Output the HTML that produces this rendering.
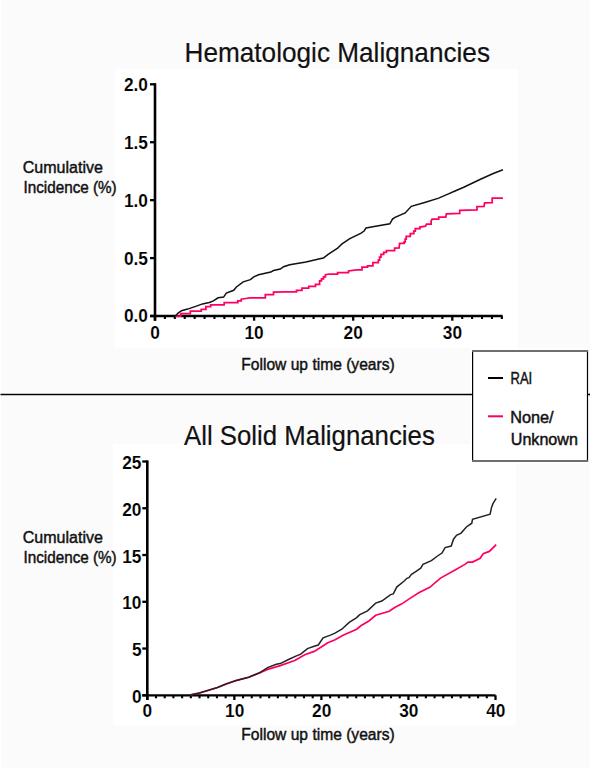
<!DOCTYPE html>
<html><head><meta charset="utf-8"><style>
html,body{margin:0;padding:0;background:#fbfbfb;}
svg{display:block;}
.ttl{font-family:"Liberation Sans",sans-serif;font-size:27.6px;fill:#111;stroke:#111;stroke-width:0.2px;}
.lab{font-family:"Liberation Sans",sans-serif;font-size:16.8px;fill:#111;stroke:#111;stroke-width:0.45px;}
.leg{font-family:"Liberation Sans",sans-serif;font-size:16px;fill:#111;stroke:#111;stroke-width:0.45px;}
.tk{font-family:"Liberation Sans",sans-serif;font-size:18px;font-weight:bold;fill:#000;stroke:#fff;stroke-width:0.12px;}
</style></head><body>
<svg width="590" height="768" viewBox="0 0 590 768">
<rect x="0" y="0" width="590" height="768" fill="#fbfbfb"/>
<rect x="0" y="0" width="1" height="768" fill="#fff"/>
<rect x="115" y="69" width="403" height="279" fill="#fff"/>
<rect x="113" y="444" width="403" height="281" fill="#fff"/>
<rect x="0" y="392.6" width="590" height="3.6" fill="#fff"/>
<line x1="0.5" y1="394.5" x2="590" y2="394.5" stroke="#000" stroke-width="1.45"/>
<text x="184.5" y="62" class="ttl" textLength="305.5" lengthAdjust="spacingAndGlyphs">Hematologic Malignancies</text>
<text x="184" y="445" class="ttl" textLength="250.8" lengthAdjust="spacingAndGlyphs">All Solid Malignancies</text>
<line x1="155" y1="83.2" x2="155" y2="320.7" stroke="#000" stroke-width="2.6"/>
<line x1="150" y1="316.0" x2="502.6" y2="316.0" stroke="#000" stroke-width="2.3"/>
<line x1="150" y1="316.0" x2="155" y2="316.0" stroke="#000" stroke-width="2.3"/>
<line x1="150" y1="258.075" x2="155" y2="258.075" stroke="#000" stroke-width="2.3"/>
<line x1="150" y1="200.15" x2="155" y2="200.15" stroke="#000" stroke-width="2.3"/>
<line x1="150" y1="142.22500000000002" x2="155" y2="142.22500000000002" stroke="#000" stroke-width="2.3"/>
<line x1="150" y1="84.30000000000001" x2="155" y2="84.30000000000001" stroke="#000" stroke-width="2.3"/>
<line x1="155.0" y1="316.0" x2="155.0" y2="320.7" stroke="#000" stroke-width="2.3"/>
<line x1="254.1" y1="316.0" x2="254.1" y2="320.7" stroke="#000" stroke-width="2.3"/>
<line x1="353.2" y1="316.0" x2="353.2" y2="320.7" stroke="#000" stroke-width="2.3"/>
<line x1="452.3" y1="316.0" x2="452.3" y2="320.7" stroke="#000" stroke-width="2.3"/>
<line x1="164.91" y1="316.0" x2="164.91" y2="319.0" stroke="#000" stroke-width="2.1"/>
<line x1="174.82" y1="316.0" x2="174.82" y2="319.0" stroke="#000" stroke-width="2.1"/>
<line x1="184.73" y1="316.0" x2="184.73" y2="319.0" stroke="#000" stroke-width="2.1"/>
<line x1="194.64" y1="316.0" x2="194.64" y2="319.0" stroke="#000" stroke-width="2.1"/>
<line x1="204.55" y1="316.0" x2="204.55" y2="319.0" stroke="#000" stroke-width="2.1"/>
<line x1="214.46" y1="316.0" x2="214.46" y2="319.0" stroke="#000" stroke-width="2.1"/>
<line x1="224.37" y1="316.0" x2="224.37" y2="319.0" stroke="#000" stroke-width="2.1"/>
<line x1="234.28" y1="316.0" x2="234.28" y2="319.0" stroke="#000" stroke-width="2.1"/>
<line x1="244.19" y1="316.0" x2="244.19" y2="319.0" stroke="#000" stroke-width="2.1"/>
<line x1="264.01" y1="316.0" x2="264.01" y2="319.0" stroke="#000" stroke-width="2.1"/>
<line x1="273.92" y1="316.0" x2="273.92" y2="319.0" stroke="#000" stroke-width="2.1"/>
<line x1="283.83000000000004" y1="316.0" x2="283.83000000000004" y2="319.0" stroke="#000" stroke-width="2.1"/>
<line x1="293.74" y1="316.0" x2="293.74" y2="319.0" stroke="#000" stroke-width="2.1"/>
<line x1="303.65" y1="316.0" x2="303.65" y2="319.0" stroke="#000" stroke-width="2.1"/>
<line x1="313.56" y1="316.0" x2="313.56" y2="319.0" stroke="#000" stroke-width="2.1"/>
<line x1="323.47" y1="316.0" x2="323.47" y2="319.0" stroke="#000" stroke-width="2.1"/>
<line x1="333.38" y1="316.0" x2="333.38" y2="319.0" stroke="#000" stroke-width="2.1"/>
<line x1="343.28999999999996" y1="316.0" x2="343.28999999999996" y2="319.0" stroke="#000" stroke-width="2.1"/>
<line x1="363.11" y1="316.0" x2="363.11" y2="319.0" stroke="#000" stroke-width="2.1"/>
<line x1="373.02" y1="316.0" x2="373.02" y2="319.0" stroke="#000" stroke-width="2.1"/>
<line x1="382.93" y1="316.0" x2="382.93" y2="319.0" stroke="#000" stroke-width="2.1"/>
<line x1="392.84000000000003" y1="316.0" x2="392.84000000000003" y2="319.0" stroke="#000" stroke-width="2.1"/>
<line x1="402.75" y1="316.0" x2="402.75" y2="319.0" stroke="#000" stroke-width="2.1"/>
<line x1="412.66" y1="316.0" x2="412.66" y2="319.0" stroke="#000" stroke-width="2.1"/>
<line x1="422.57" y1="316.0" x2="422.57" y2="319.0" stroke="#000" stroke-width="2.1"/>
<line x1="432.48" y1="316.0" x2="432.48" y2="319.0" stroke="#000" stroke-width="2.1"/>
<line x1="442.39" y1="316.0" x2="442.39" y2="319.0" stroke="#000" stroke-width="2.1"/>
<line x1="462.21" y1="316.0" x2="462.21" y2="319.0" stroke="#000" stroke-width="2.1"/>
<line x1="472.12" y1="316.0" x2="472.12" y2="319.0" stroke="#000" stroke-width="2.1"/>
<line x1="482.03000000000003" y1="316.0" x2="482.03000000000003" y2="319.0" stroke="#000" stroke-width="2.1"/>
<line x1="491.94" y1="316.0" x2="491.94" y2="319.0" stroke="#000" stroke-width="2.1"/>
<line x1="501.85" y1="316.0" x2="501.85" y2="319.0" stroke="#000" stroke-width="2.1"/>
<text x="148" y="91" class="tk" text-anchor="end" textLength="24.02" lengthAdjust="spacingAndGlyphs">2.0</text>
<text x="148" y="149" class="tk" text-anchor="end" textLength="24.02" lengthAdjust="spacingAndGlyphs">1.5</text>
<text x="148" y="207" class="tk" text-anchor="end" textLength="24.02" lengthAdjust="spacingAndGlyphs">1.0</text>
<text x="148" y="265" class="tk" text-anchor="end" textLength="24.02" lengthAdjust="spacingAndGlyphs">0.5</text>
<text x="148" y="322" class="tk" text-anchor="end" textLength="24.02" lengthAdjust="spacingAndGlyphs">0.0</text>
<text x="155" y="338.5" class="tk" text-anchor="middle" textLength="9.61" lengthAdjust="spacingAndGlyphs">0</text>
<text x="254.1" y="338.5" class="tk" text-anchor="middle" textLength="19.22" lengthAdjust="spacingAndGlyphs">10</text>
<text x="353.2" y="338.5" class="tk" text-anchor="middle" textLength="19.22" lengthAdjust="spacingAndGlyphs">20</text>
<text x="452.4" y="338.5" class="tk" text-anchor="middle" textLength="19.22" lengthAdjust="spacingAndGlyphs">30</text>
<polyline points="175.4,316.1 180.8,316.1 180.8,313.7 190.3,313.7 190.3,311.0 201.2,311.0 201.2,309.3 205.9,309.3 205.9,306.6 210.7,306.6 210.7,304.8 224.2,304.8 224.2,302.5 237.8,302.5 237.8,300.9 241.2,300.9 241.2,299.2 245.9,298.5 250.0,297.8 265.3,297.8 265.3,294.5 273.5,294.5 273.5,292.2 285.7,291.8 296.5,291.8 296.5,290.4 302.0,290.4 302.0,288.1 308.7,288.1 308.7,286.4 315.5,286.4 315.5,284.3 319.6,284.3 319.6,280.9 321.5,280.9 321.5,278.8 323.5,278.8 323.5,276.8 325.4,276.8 325.4,274.7 329.5,274.0 337.6,274.0 337.6,272.6 348.5,272.6 348.5,270.9 356.6,269.9 362.0,269.9 362.0,267.2 367.5,267.2 367.5,265.8 372.9,265.8 372.9,262.5 378.3,262.5 378.3,260.0 379.6,260.0 379.6,257.1 381.0,257.1 381.0,254.3 383.7,254.3 383.7,252.4 386.4,252.4 386.4,250.5 394.6,250.5 394.6,248.2 399.1,248.0 399.6,243.4 404.2,243.4 404.2,241.9 405.2,241.9 405.2,239.1 406.2,239.1 406.2,236.3 410.3,236.3 410.3,233.7 413.8,233.7 413.8,231.2 415.3,231.2 415.3,228.6 419.9,228.6 419.9,227.1 425.5,226.1 426.5,224.1 431.1,224.1 431.1,221.0 432.1,219.0 438.7,219.0 438.7,217.0 445.8,217.0 446.4,213.9 459.7,213.4 459.7,210.3 477.0,209.8 477.0,206.6 484.1,206.3 484.6,202.9 492.2,202.7 492.2,198.1 502.9,198.1" fill="none" stroke="#ff0062" stroke-width="1.75" stroke-linejoin="miter"/>
<polyline points="175.4,316.1 178.1,313.1 181.5,310.7 187.6,309.1 197.1,305.9 202.5,303.9 209.3,302.5 213.4,300.9 218.1,297.8 223.6,297.1 226.3,293.1 233.7,290.3 236.4,287.0 243.2,281.9 250.4,279.6 253.8,276.9 258.6,274.8 270.8,272.1 273.5,270.5 280.3,269.1 283.6,266.7 289.7,264.7 306.0,262.0 320.9,258.6 323.4,258.1 328.1,254.3 337.6,248.2 341.7,244.2 349.8,238.7 360.7,233.3 364.1,231.0 366.1,227.9 374.2,226.5 389.8,223.8 392.5,219.1 395.0,217.3 405.2,212.9 411.3,206.3 425.5,202.2 438.7,198.1 447.9,194.1 455.0,191.0 463.2,187.5 480.5,179.3 492.7,173.7 502.9,169.7" fill="none" stroke="#111" stroke-width="1.5"/>
<line x1="147.3" y1="460.4" x2="147.3" y2="700.0" stroke="#000" stroke-width="2.6"/>
<line x1="142.3" y1="695.3" x2="495.5" y2="695.3" stroke="#000" stroke-width="2.3"/>
<line x1="142.3" y1="695.3" x2="147.3" y2="695.3" stroke="#000" stroke-width="2.3"/>
<line x1="142.3" y1="648.54" x2="147.3" y2="648.54" stroke="#000" stroke-width="2.3"/>
<line x1="142.3" y1="601.78" x2="147.3" y2="601.78" stroke="#000" stroke-width="2.3"/>
<line x1="142.3" y1="555.02" x2="147.3" y2="555.02" stroke="#000" stroke-width="2.3"/>
<line x1="142.3" y1="508.25999999999993" x2="147.3" y2="508.25999999999993" stroke="#000" stroke-width="2.3"/>
<line x1="142.3" y1="461.49999999999994" x2="147.3" y2="461.49999999999994" stroke="#000" stroke-width="2.3"/>
<line x1="147.3" y1="695.3" x2="147.3" y2="700.0" stroke="#000" stroke-width="2.3"/>
<line x1="234.35000000000002" y1="695.3" x2="234.35000000000002" y2="700.0" stroke="#000" stroke-width="2.3"/>
<line x1="321.4" y1="695.3" x2="321.4" y2="700.0" stroke="#000" stroke-width="2.3"/>
<line x1="408.45" y1="695.3" x2="408.45" y2="700.0" stroke="#000" stroke-width="2.3"/>
<line x1="495.5" y1="695.3" x2="495.5" y2="700.0" stroke="#000" stroke-width="2.3"/>
<line x1="156.00500000000002" y1="695.3" x2="156.00500000000002" y2="698.3" stroke="#000" stroke-width="2.1"/>
<line x1="164.71" y1="695.3" x2="164.71" y2="698.3" stroke="#000" stroke-width="2.1"/>
<line x1="173.41500000000002" y1="695.3" x2="173.41500000000002" y2="698.3" stroke="#000" stroke-width="2.1"/>
<line x1="182.12" y1="695.3" x2="182.12" y2="698.3" stroke="#000" stroke-width="2.1"/>
<line x1="190.82500000000002" y1="695.3" x2="190.82500000000002" y2="698.3" stroke="#000" stroke-width="2.1"/>
<line x1="199.53000000000003" y1="695.3" x2="199.53000000000003" y2="698.3" stroke="#000" stroke-width="2.1"/>
<line x1="208.235" y1="695.3" x2="208.235" y2="698.3" stroke="#000" stroke-width="2.1"/>
<line x1="216.94" y1="695.3" x2="216.94" y2="698.3" stroke="#000" stroke-width="2.1"/>
<line x1="225.645" y1="695.3" x2="225.645" y2="698.3" stroke="#000" stroke-width="2.1"/>
<line x1="243.055" y1="695.3" x2="243.055" y2="698.3" stroke="#000" stroke-width="2.1"/>
<line x1="251.76000000000002" y1="695.3" x2="251.76000000000002" y2="698.3" stroke="#000" stroke-width="2.1"/>
<line x1="260.46500000000003" y1="695.3" x2="260.46500000000003" y2="698.3" stroke="#000" stroke-width="2.1"/>
<line x1="269.17" y1="695.3" x2="269.17" y2="698.3" stroke="#000" stroke-width="2.1"/>
<line x1="277.875" y1="695.3" x2="277.875" y2="698.3" stroke="#000" stroke-width="2.1"/>
<line x1="286.58000000000004" y1="695.3" x2="286.58000000000004" y2="698.3" stroke="#000" stroke-width="2.1"/>
<line x1="295.285" y1="695.3" x2="295.285" y2="698.3" stroke="#000" stroke-width="2.1"/>
<line x1="303.99" y1="695.3" x2="303.99" y2="698.3" stroke="#000" stroke-width="2.1"/>
<line x1="312.69500000000005" y1="695.3" x2="312.69500000000005" y2="698.3" stroke="#000" stroke-width="2.1"/>
<line x1="330.105" y1="695.3" x2="330.105" y2="698.3" stroke="#000" stroke-width="2.1"/>
<line x1="338.81" y1="695.3" x2="338.81" y2="698.3" stroke="#000" stroke-width="2.1"/>
<line x1="347.515" y1="695.3" x2="347.515" y2="698.3" stroke="#000" stroke-width="2.1"/>
<line x1="356.22" y1="695.3" x2="356.22" y2="698.3" stroke="#000" stroke-width="2.1"/>
<line x1="364.925" y1="695.3" x2="364.925" y2="698.3" stroke="#000" stroke-width="2.1"/>
<line x1="373.63" y1="695.3" x2="373.63" y2="698.3" stroke="#000" stroke-width="2.1"/>
<line x1="382.33500000000004" y1="695.3" x2="382.33500000000004" y2="698.3" stroke="#000" stroke-width="2.1"/>
<line x1="391.04" y1="695.3" x2="391.04" y2="698.3" stroke="#000" stroke-width="2.1"/>
<line x1="399.745" y1="695.3" x2="399.745" y2="698.3" stroke="#000" stroke-width="2.1"/>
<line x1="417.15500000000003" y1="695.3" x2="417.15500000000003" y2="698.3" stroke="#000" stroke-width="2.1"/>
<line x1="425.86" y1="695.3" x2="425.86" y2="698.3" stroke="#000" stroke-width="2.1"/>
<line x1="434.565" y1="695.3" x2="434.565" y2="698.3" stroke="#000" stroke-width="2.1"/>
<line x1="443.27000000000004" y1="695.3" x2="443.27000000000004" y2="698.3" stroke="#000" stroke-width="2.1"/>
<line x1="451.975" y1="695.3" x2="451.975" y2="698.3" stroke="#000" stroke-width="2.1"/>
<line x1="460.68" y1="695.3" x2="460.68" y2="698.3" stroke="#000" stroke-width="2.1"/>
<line x1="469.385" y1="695.3" x2="469.385" y2="698.3" stroke="#000" stroke-width="2.1"/>
<line x1="478.09000000000003" y1="695.3" x2="478.09000000000003" y2="698.3" stroke="#000" stroke-width="2.1"/>
<line x1="486.795" y1="695.3" x2="486.795" y2="698.3" stroke="#000" stroke-width="2.1"/>
<text x="141.5" y="469" class="tk" text-anchor="end" textLength="19.22" lengthAdjust="spacingAndGlyphs">25</text>
<text x="141.5" y="515.5" class="tk" text-anchor="end" textLength="19.22" lengthAdjust="spacingAndGlyphs">20</text>
<text x="141.5" y="562.5" class="tk" text-anchor="end" textLength="19.22" lengthAdjust="spacingAndGlyphs">15</text>
<text x="141.5" y="609" class="tk" text-anchor="end" textLength="19.22" lengthAdjust="spacingAndGlyphs">10</text>
<text x="141.5" y="656" class="tk" text-anchor="end" textLength="9.61" lengthAdjust="spacingAndGlyphs">5</text>
<text x="141.5" y="702.5" class="tk" text-anchor="end" textLength="9.61" lengthAdjust="spacingAndGlyphs">0</text>
<text x="147.4" y="717" class="tk" text-anchor="middle" textLength="9.61" lengthAdjust="spacingAndGlyphs">0</text>
<text x="234.7" y="717" class="tk" text-anchor="middle" textLength="19.22" lengthAdjust="spacingAndGlyphs">10</text>
<text x="321.7" y="717" class="tk" text-anchor="middle" textLength="19.22" lengthAdjust="spacingAndGlyphs">20</text>
<text x="408.8" y="717" class="tk" text-anchor="middle" textLength="19.22" lengthAdjust="spacingAndGlyphs">30</text>
<text x="495.8" y="717" class="tk" text-anchor="middle" textLength="19.22" lengthAdjust="spacingAndGlyphs">40</text>
<polyline points="190.4,694.9 198.6,693.2 208.1,690.4 217.5,687.5 225.7,684.1 236.5,680.4 248.7,677.3 256.9,673.9 260.0,672.6 267.5,669.4 280.3,665.6 295.3,660.2 304.7,654.7 314.2,651.4 319.7,648.0 327.8,642.8 334.6,640.1 343.1,635.3 356.7,629.2 360.8,625.8 368.9,621.0 375.7,615.3 389.2,611.3 394.7,607.5 401.4,604.1 409.6,598.6 419.2,592.6 429.8,587.3 440.5,578.1 454.2,570.5 464.9,564.4 468.0,562.1 472.5,562.1 480.2,558.3 483.2,553.7 489.3,551.4 496.2,544.6" fill="none" stroke="#ff0062" stroke-width="1.7"/>
<polyline points="190.4,694.9 198.6,693.2 208.1,690.4 217.5,687.5 225.7,684.1 236.5,680.4 248.7,677.3 256.9,673.9 260.0,672.6 267.5,667.6 276.3,664.2 280.3,663.6 288.5,659.5 295.3,656.4 300.7,654.1 307.5,648.6 314.2,646.3 318.3,645.0 323.1,637.8 330.5,635.1 335.0,633.2 341.8,629.2 349.2,622.4 356.7,617.6 359.4,614.9 367.5,610.8 375.7,603.1 381.8,601.0 390.6,594.6 393.3,593.9 396.7,587.1 404.2,581.0 406.9,578.3 408.9,577.6 411.5,574.3 416.1,571.3 420.7,568.2 423.0,564.4 431.4,560.6 437.5,556.0 442.0,553.0 445.1,547.6 451.2,546.1 453.5,539.2 456.5,535.4 461.1,533.1 466.4,527.0 471.8,523.2 472.5,519.4 490.1,514.1 491.6,507.2 493.1,503.4 496.2,498.4" fill="none" stroke="#222" stroke-width="1.5"/>
<text x="22.7" y="173.1" class="lab" textLength="80.2" lengthAdjust="spacingAndGlyphs">Cumulative</text>
<text x="23.5" y="192.5" class="lab" textLength="93.2" lengthAdjust="spacingAndGlyphs">Incidence (%)</text>
<text x="241.3" y="370" class="lab" textLength="153.4" lengthAdjust="spacingAndGlyphs">Follow up time (years)</text>
<text x="22.7" y="543.1" class="lab" textLength="80.2" lengthAdjust="spacingAndGlyphs">Cumulative</text>
<text x="23.5" y="562.5" class="lab" textLength="93.2" lengthAdjust="spacingAndGlyphs">Incidence (%)</text>
<text x="241.3" y="740" class="lab" textLength="153.4" lengthAdjust="spacingAndGlyphs">Follow up time (years)</text>
<rect x="470.6" y="348.3" width="118.4" height="115" fill="#fff"/>
<line x1="470" y1="394.5" x2="473" y2="394.5" stroke="#000" stroke-width="1.45"/>
<line x1="587" y1="394.5" x2="590" y2="394.5" stroke="#000" stroke-width="1.45"/>
<line x1="472.6" y1="350" x2="472.6" y2="462" stroke="#000" stroke-width="1.2"/>
<line x1="587.5" y1="350" x2="587.5" y2="462" stroke="#000" stroke-width="1.2"/>
<line x1="472" y1="351" x2="588.1" y2="351" stroke="#6e6e6e" stroke-width="2"/>
<line x1="472" y1="460.9" x2="588.1" y2="460.9" stroke="#6e6e6e" stroke-width="2"/>
<line x1="488" y1="378" x2="503" y2="378" stroke="#000" stroke-width="2"/>
<line x1="488" y1="416.3" x2="503" y2="416.3" stroke="#ff0062" stroke-width="2"/>
<text x="510.5" y="383.7" class="leg" textLength="21.7" lengthAdjust="spacingAndGlyphs">RAI</text>
<text x="510.2" y="423.4" class="leg" textLength="43.4" lengthAdjust="spacingAndGlyphs">None/</text>
<text x="510.8" y="444.8" class="leg" textLength="67.1" lengthAdjust="spacingAndGlyphs">Unknown</text>
</svg>
</body></html>
